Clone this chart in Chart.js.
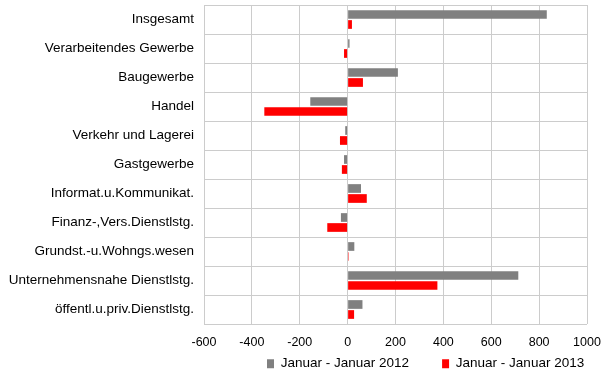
<!DOCTYPE html>
<html>
<head>
<meta charset="utf-8">
<script src="https://cdn.jsdelivr.net/npm/chart.js@4"></script>
<style>
  html, body { margin: 0; padding: 0; background: #fff; }
  #wrap { width: 605px; height: 374px; }
</style>
</head>
<body>
<div id="wrap"><canvas id="chart" width="605" height="374"></canvas></div>
<script>
const categories = [
    'Insgesamt',
    'Verarbeitendes Gewerbe',
    'Baugewerbe',
    'Handel',
    'Verkehr und Lagerei',
    'Gastgewerbe',
    'Informat.u.Kommunikat.',
    'Finanz-,Vers.Dienstlstg.',
    'Grundst.-u.Wohngs.wesen',
    'Unternehmensnahe Dienstlstg.',
    'öffentl.u.priv.Dienstlstg.'
];
const jan2012 = [832, 8, 210, -156, -10, -15, 56, -28, 28, 713, 62];
const jan2013 = [18, -15, 64, -348, -32, -24, 80, -85, 4, 375, 27];
const seriesNames = ['Januar - Januar 2012', 'Januar - Januar 2013'];
const xTicks = [-600, -400, -200, 0, 200, 400, 600, 800, 1000];

Chart.defaults.font.family = '"Liberation Sans", Arial, sans-serif';
Chart.defaults.font.size = 13.5;
Chart.defaults.color = '#000';

// move the legend under the plot, a bit right of centre like the original
const legendPlacer = {
    id: 'legendPlacer',
    afterLayout(chart) {
        const lg = chart.legend;
        lg.left = 234;
        lg.right = 900; // wide enough so both items stay on one row
        lg.top = 324;
    },
};

const chart = new Chart(document.getElementById('chart'), {
    type: 'bar',
    data: {
        labels: categories,
        datasets: [
            {
                label: seriesNames[0],
                data: jan2012,
                backgroundColor: '#808080',
                categoryPercentage: 0.69,
                barPercentage: 0.87,
            },
            {
                label: seriesNames[1],
                data: jan2013,
                backgroundColor: '#ff0000',
                categoryPercentage: 0.69,
                barPercentage: 0.87,
            },
        ],
    },
    options: {
        indexAxis: 'y',
        responsive: false,
        animation: false,
        layout: { padding: { top: 5, right: 18, left: 0, bottom: 0 } },
        scales: {
            x: {
                min: -600,
                max: 1000,
                afterBuildTicks: (scale) => {
                    scale.ticks = xTicks.map(v => ({ value: v }));
                },
                afterFit: (scale) => {
                    scale.height = 27;
                    scale.paddingLeft = 0;
                    scale.paddingRight = 0;
                },
                grid: { color: '#cccccc', drawTicks: false },
                border: { display: false },
                ticks: {
                    padding: 11,
                    font: { size: 12.5 },
                    callback: (v) => String(v),
                },
            },
            y: {
                afterFit: (scale) => {
                    scale.width = 204;
                    scale.paddingTop = 0;
                    scale.paddingBottom = 0;
                },
                grid: { color: '#cccccc', drawTicks: false, offset: true },
                border: { display: false },
                ticks: { padding: 10 },
            },
        },
        plugins: {
            legend: {
                position: 'bottom',
                align: 'start',
                maxHeight: 23,
                labels: {
                    boxWidth: 7,
                    boxHeight: 9,
                    padding: 33,
                },
            },
            tooltip: { enabled: false },
        },
    },
    plugins: [legendPlacer],
});
</script>
</body>
</html>
